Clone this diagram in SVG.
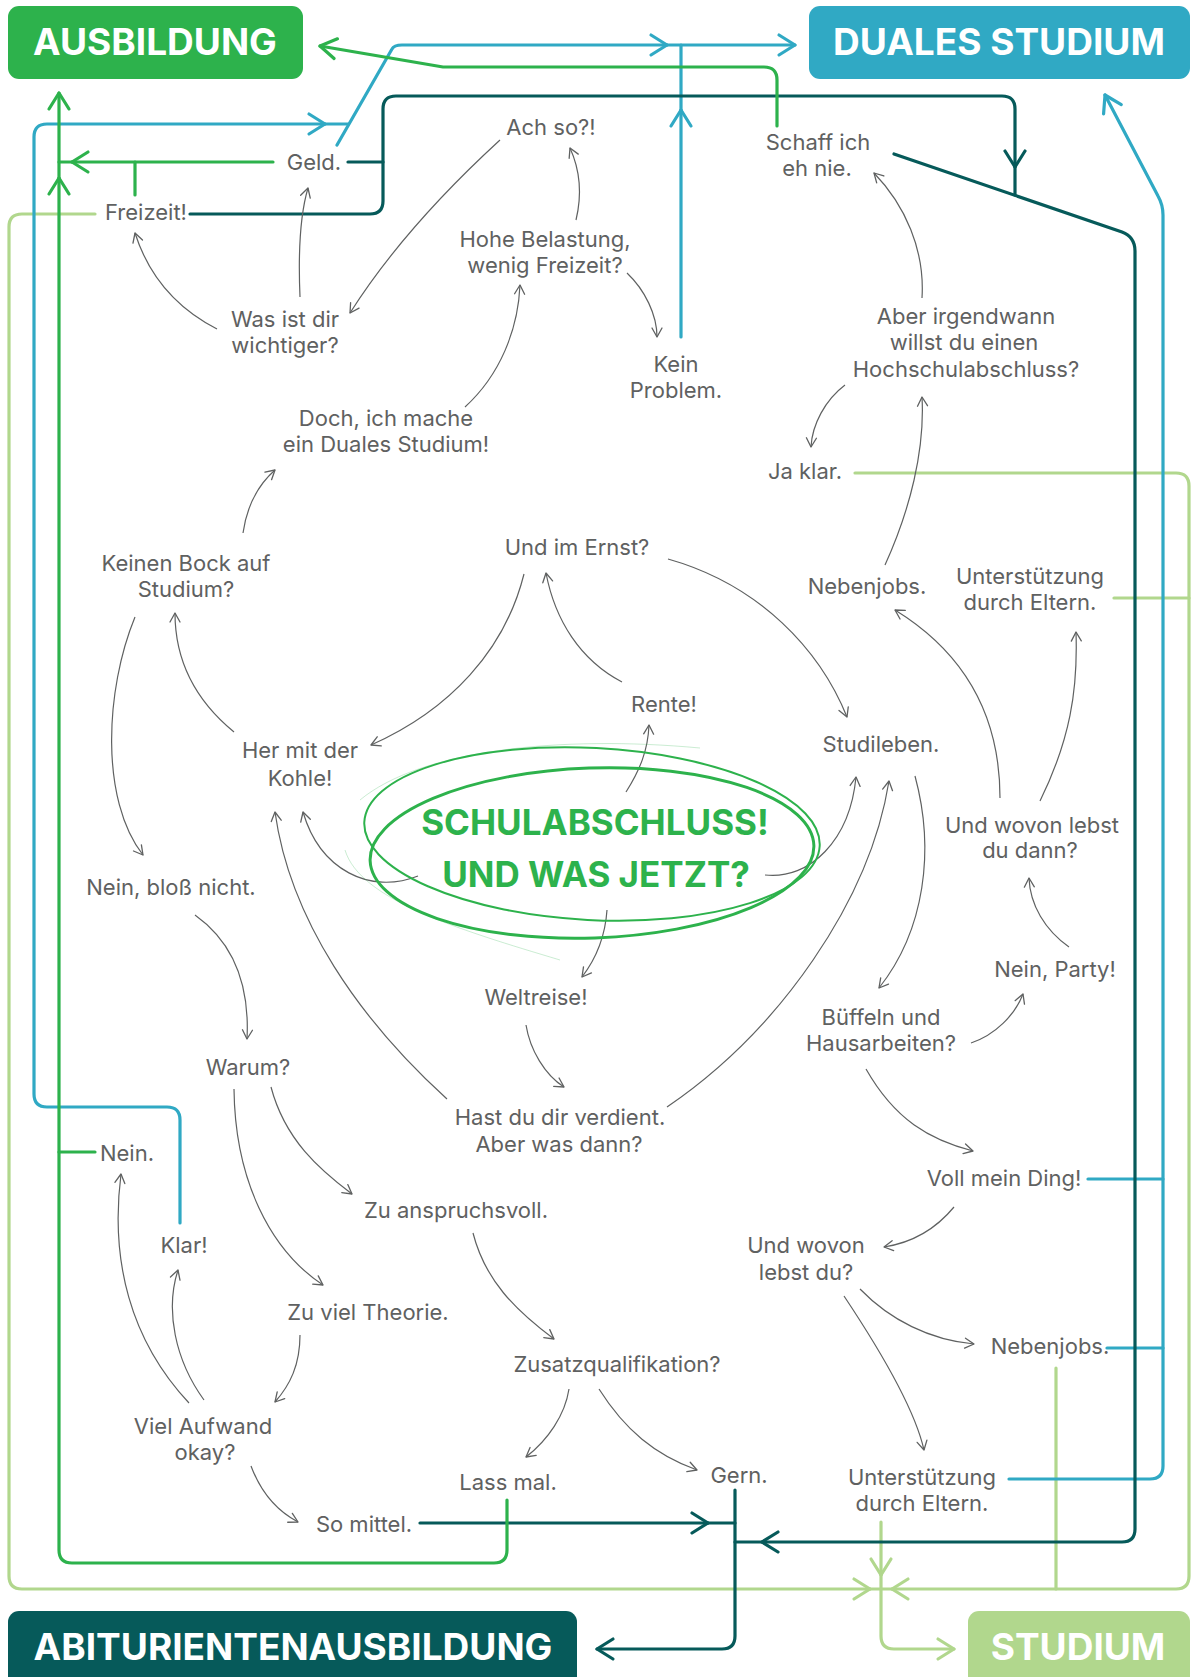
<svg xmlns="http://www.w3.org/2000/svg" width="1192" height="1677" viewBox="0 0 1192 1677">
<style>
.t{font-family:Inter,"Liberation Sans",sans-serif;font-size:22px;fill:#5f6161;text-anchor:middle}
.bt{font-family:Inter,"Liberation Sans",sans-serif;font-size:37px;font-weight:700;fill:#fff;text-anchor:middle}
.ht{font-family:Inter,"Liberation Sans",sans-serif;font-size:35px;font-weight:700;fill:#2db24c;text-anchor:middle}
.g{fill:none;stroke:#5f6161;stroke-width:1.2;marker-end:url(#mgr)}
.cg{fill:none;stroke:#2db24c;stroke-width:3.2;stroke-linecap:round;stroke-linejoin:round}
.cb{fill:none;stroke:#30a9c4;stroke-width:3.2;stroke-linecap:round;stroke-linejoin:round}
.cd{fill:none;stroke:#065a5a;stroke-width:3.2;stroke-linecap:round;stroke-linejoin:round}
.cl{fill:none;stroke:#b1d78d;stroke-width:3.2;stroke-linecap:round;stroke-linejoin:round}
.ag{marker-end:url(#mg)}.ab{marker-end:url(#mb)}.ad{marker-end:url(#md)}.al{marker-end:url(#ml)}
</style>
<defs>
<marker id="mgr" viewBox="-12 -8 14 16" refX="0" refY="0" markerWidth="14" markerHeight="16" markerUnits="userSpaceOnUse" orient="auto"><path d="M-9,-5 L0,0 L-9,5" fill="none" stroke="#5f6161" stroke-width="1.3" stroke-linecap="round" stroke-linejoin="round"/></marker>
<marker id="mg" viewBox="-20 -13 24 26" refX="0" refY="0" markerWidth="24" markerHeight="26" markerUnits="userSpaceOnUse" orient="auto"><path d="M-16,-10 L0,0 L-16,10" fill="none" stroke="#2db24c" stroke-width="3.2" stroke-linecap="round" stroke-linejoin="round"/></marker>
<marker id="mb" viewBox="-20 -13 24 26" refX="0" refY="0" markerWidth="24" markerHeight="26" markerUnits="userSpaceOnUse" orient="auto"><path d="M-16,-10 L0,0 L-16,10" fill="none" stroke="#30a9c4" stroke-width="3.2" stroke-linecap="round" stroke-linejoin="round"/></marker>
<marker id="md" viewBox="-20 -13 24 26" refX="0" refY="0" markerWidth="24" markerHeight="26" markerUnits="userSpaceOnUse" orient="auto"><path d="M-16,-10 L0,0 L-16,10" fill="none" stroke="#065a5a" stroke-width="3.2" stroke-linecap="round" stroke-linejoin="round"/></marker>
<marker id="ml" viewBox="-20 -13 24 26" refX="0" refY="0" markerWidth="24" markerHeight="26" markerUnits="userSpaceOnUse" orient="auto"><path d="M-16,-10 L0,0 L-16,10" fill="none" stroke="#b1d78d" stroke-width="3.2" stroke-linecap="round" stroke-linejoin="round"/></marker>
</defs>
<rect width="1192" height="1677" fill="#fff"/>

<g id="connectors">
<!-- light green -->
<path class="cl al" d="M 95 214 L 22 214 Q 9 214 9 227 L 9 1576 Q 9 1589 22 1589 L 870 1589"/>
<path class="cl al" d="M 855 473 L 1176 473 Q 1189 473 1189 486 L 1189 1576 Q 1189 1589 1176 1589 L 892 1589"/>
<path class="cl" d="M 870 1589 L 892 1589"/>
<path class="cl" d="M 1114 598 L 1189 598"/>
<path class="cl" d="M 1056 1368 L 1056 1589"/>
<path class="cl al" d="M 881 1522 L 881 1575"/>
<path class="cl al" d="M 881 1575 L 881 1636 Q 881 1649 894 1649 L 954 1649"/>
<!-- blue -->
<path class="cb ab" d="M 180 1223 L 180 1120 Q 180 1107 167 1107 L 47 1107 Q 34 1107 34 1094 L 34 137 Q 34 124 47 124 L 325 124"/>
<path class="cb" d="M 325 124 L 348 124"/>
<path class="cb ab" d="M 337 145 L 392 49 Q 394 45 402 45 L 667 45"/>
<path class="cb ab" d="M 667 45 L 795 45"/>
<path class="cb ab" d="M 681 337 L 681 110"/>
<path class="cb" d="M 681 110 L 681 45"/>
<path class="cb ab" d="M 1009 1479 L 1150 1479 Q 1163 1479 1163 1466 L 1163 215 Q 1163 205 1158 196 L 1105 95"/>
<path class="cb" d="M 1088 1179 L 1163 1179"/>
<path class="cb" d="M 1107 1348 L 1163 1348"/>
<!-- dark -->
<path class="cd" d="M 348 162 L 383 162"/>
<path class="cd ad" d="M 190 214 L 370 214 Q 383 214 383 201 L 383 109 Q 383 96 396 96 L 1002 96 Q 1015 96 1015 109 L 1015 167"/>
<path class="cd" d="M 1015 167 L 1015 195"/>
<path class="cd ad" d="M 894 154 L 1122 232 Q 1135 237 1135 251 L 1135 1529 Q 1135 1542 1122 1542 L 762 1542"/>
<path class="cd" d="M 762 1542 L 735 1542"/>
<path class="cd ad" d="M 420 1523 L 708 1523"/>
<path class="cd" d="M 708 1523 L 735 1523"/>
<path class="cd ad" d="M 735 1490 L 735 1636 Q 735 1649 722 1649 L 597 1649"/>
<!-- green -->
<path class="cg ag" d="M 777 126 L 777 80 Q 777 67 764 67 L 443 67 L 320 46"/>
<path class="cg ag" d="M 507 1500 L 507 1550 Q 507 1563 494 1563 L 72 1563 Q 59 1563 59 1550 L 59 178"/>
<path class="cg ag" d="M 59 178 L 59 93"/>
<path class="cg ag" d="M 273 162 L 72 162"/>
<path class="cg" d="M 72 162 L 59 162"/>
<path class="cg" d="M 135 195 L 135 162"/>
<path class="cg" d="M 95 1152 L 59 1152"/>
<!-- gray flow arrows -->
<path class="g" d="M 217 329 C 180 310, 150 280, 135 233"/>
<path class="g" d="M 300 297 C 298 250, 300 215, 308 188"/>
<path class="g" d="M 500 140 C 440 195, 390 250, 350 313"/>
<path class="g" d="M 576 220 C 582 195, 580 170, 570 148"/>
<path class="g" d="M 465 407 C 500 375, 518 330, 520 285"/>
<path class="g" d="M 627 273 C 645 290, 657 315, 657 337"/>
<path class="g" d="M 922 298 C 925 250, 905 205, 874 173"/>
<path class="g" d="M 845 385 C 825 400, 812 425, 811 447"/>
<path class="g" d="M 885 565 C 910 510, 925 450, 922 397"/>
<path class="g" d="M 243 533 C 247 505, 258 485, 275 470"/>
<path class="g" d="M 234 732 C 195 700, 175 660, 175 613"/>
<path class="g" d="M 135 617 C 105 690, 100 800, 143 855"/>
<path class="g" d="M 524 574 C 505 650, 450 710, 371 745"/>
<path class="g" d="M 622 682 C 580 660, 555 620, 546 573"/>
<path class="g" d="M 668 559 C 760 585, 820 650, 847 717"/>
<path class="g" d="M 626 792 C 640 770, 648 750, 649 725"/>
<path class="g" d="M 418 876 C 370 895, 320 870, 303 812"/>
<path class="g" d="M 447 1099 C 360 1020, 290 920, 275 812"/>
<path class="g" d="M 765 875 C 810 880, 850 840, 856 777"/>
<path class="g" d="M 667 1107 C 780 1030, 870 900, 889 781"/>
<path class="g" d="M 915 776 C 935 850, 925 930, 879 988"/>
<path class="g" d="M 1000 798 C 1000 710, 960 650, 895 610"/>
<path class="g" d="M 1040 801 C 1070 740, 1078 690, 1076 632"/>
<path class="g" d="M 1069 947 C 1045 930, 1030 905, 1029 878"/>
<path class="g" d="M 971 1043 C 995 1035, 1015 1015, 1023 994"/>
<path class="g" d="M 866 1069 C 895 1120, 930 1140, 973 1151"/>
<path class="g" d="M 954 1207 C 935 1230, 910 1243, 884 1247"/>
<path class="g" d="M 607 910 C 605 940, 595 960, 582 977"/>
<path class="g" d="M 526 1025 C 530 1050, 545 1075, 564 1087"/>
<path class="g" d="M 195 915 C 230 940, 250 980, 247 1039"/>
<path class="g" d="M 271 1087 C 285 1140, 320 1170, 352 1194"/>
<path class="g" d="M 234 1089 C 235 1180, 270 1250, 323 1285"/>
<path class="g" d="M 473 1233 C 485 1280, 515 1310, 554 1339"/>
<path class="g" d="M 300 1335 C 300 1365, 290 1385, 275 1402"/>
<path class="g" d="M 189 1403 C 130 1340, 110 1260, 121 1174"/>
<path class="g" d="M 204 1400 C 175 1360, 165 1310, 178 1270"/>
<path class="g" d="M 251 1466 C 260 1490, 275 1510, 298 1522"/>
<path class="g" d="M 569 1389 C 565 1415, 548 1440, 526 1457"/>
<path class="g" d="M 599 1389 C 625 1430, 655 1455, 697 1470"/>
<path class="g" d="M 860 1289 C 890 1320, 930 1340, 974 1344"/>
<path class="g" d="M 844 1296 C 880 1350, 915 1410, 924 1450"/>
</g>

<g id="n-ausbildung"><rect x="8" y="6" width="295" height="73" rx="11" fill="#2db24c"/><text class="bt" x="155" y="55">AUSBILDUNG</text></g>
<g id="n-duales"><rect x="809" y="6" width="381" height="73" rx="11" fill="#30a9c4"/><text class="bt" x="999" y="55">DUALES STUDIUM</text></g>
<g id="n-abi"><rect x="8" y="1611" width="569" height="90" rx="11" fill="#065a5a"/><text class="bt" x="293" y="1660">ABITURIENTENAUSBILDUNG</text></g>
<g id="n-studium"><rect x="968" y="1611" width="222" height="90" rx="11" fill="#b1d78d"/><text class="bt" x="1078" y="1660">STUDIUM</text></g>

<g id="n-start">
<ellipse cx="592" cy="853" rx="222" ry="85" transform="rotate(-2 592 853)" fill="none" stroke="#2db24c" stroke-width="3"/>
<ellipse cx="592" cy="834" rx="228" ry="86" transform="rotate(3 592 834)" fill="none" stroke="#2db24c" stroke-width="2"/>
<path d="M 360 800 C 420 750, 560 735, 700 748 M 345 850 C 360 900, 460 930, 560 960" fill="none" stroke="#2db24c" stroke-width="1" opacity="0.25"/>
<text class="ht" x="595" y="835">SCHULABSCHLUSS!</text>
<text class="ht" x="596" y="887">UND WAS JETZT?</text>
</g>

<g id="n-geld"><text class="t" x="314" y="170">Geld.</text></g>
<g id="n-freizeit"><text class="t" x="146" y="220">Freizeit!</text></g>
<g id="n-wichtiger"><text class="t" x="285" y="327">Was ist dir</text><text class="t" x="285" y="353">wichtiger?</text></g>
<g id="n-achso"><text class="t" x="551" y="135">Ach so?!</text></g>
<g id="n-hohe"><text class="t" x="545" y="247">Hohe Belastung,</text><text class="t" x="545" y="273">wenig Freizeit?</text></g>
<g id="n-kein"><text class="t" x="676" y="372">Kein</text><text class="t" x="676" y="398">Problem.</text></g>
<g id="n-schaff"><text class="t" x="818" y="150">Schaff ich</text><text class="t" x="817" y="176">eh nie.</text></g>
<g id="n-aber"><text class="t" x="966" y="324">Aber irgendwann</text><text class="t" x="964" y="350">willst du einen</text><text class="t" x="966" y="377">Hochschulabschluss?</text></g>
<g id="n-doch"><text class="t" x="386" y="426">Doch, ich mache</text><text class="t" x="386" y="452">ein Duales Studium!</text></g>
<g id="n-jaklar"><text class="t" x="805" y="479">Ja klar.</text></g>
<g id="n-keinen"><text class="t" x="186" y="571">Keinen Bock auf</text><text class="t" x="186" y="597">Studium?</text></g>
<g id="n-ernst"><text class="t" x="577" y="555">Und im Ernst?</text></g>
<g id="n-nebenjobs1"><text class="t" x="867" y="594">Nebenjobs.</text></g>
<g id="n-unterst1"><text class="t" x="1030" y="584">Unterstützung</text><text class="t" x="1030" y="610">durch Eltern.</text></g>
<g id="n-rente"><text class="t" x="664" y="712">Rente!</text></g>
<g id="n-kohle"><text class="t" x="300" y="758">Her mit der</text><text class="t" x="300" y="786">Kohle!</text></g>
<g id="n-studileben"><text class="t" x="881" y="752">Studileben.</text></g>
<g id="n-wovon1"><text class="t" x="1032" y="833">Und wovon lebst</text><text class="t" x="1030" y="858">du dann?</text></g>
<g id="n-blossnicht"><text class="t" x="171" y="895">Nein, bloß nicht.</text></g>
<g id="n-weltreise"><text class="t" x="536" y="1005">Weltreise!</text></g>
<g id="n-party"><text class="t" x="1055" y="977">Nein, Party!</text></g>
<g id="n-bueffeln"><text class="t" x="881" y="1025">Büffeln und</text><text class="t" x="881" y="1051">Hausarbeiten?</text></g>
<g id="n-warum"><text class="t" x="248" y="1075">Warum?</text></g>
<g id="n-hast"><text class="t" x="560" y="1125">Hast du dir verdient.</text><text class="t" x="559" y="1152">Aber was dann?</text></g>
<g id="n-nein"><text class="t" x="127" y="1161">Nein.</text></g>
<g id="n-voll"><text class="t" x="1004" y="1186">Voll mein Ding!</text></g>
<g id="n-anspruch"><text class="t" x="456" y="1218">Zu anspruchsvoll.</text></g>
<g id="n-klar"><text class="t" x="184" y="1253">Klar!</text></g>
<g id="n-wovon2"><text class="t" x="806" y="1253">Und wovon</text><text class="t" x="806" y="1280">lebst du?</text></g>
<g id="n-theorie"><text class="t" x="368" y="1320">Zu viel Theorie.</text></g>
<g id="n-nebenjobs2"><text class="t" x="1050" y="1354">Nebenjobs.</text></g>
<g id="n-zusatz"><text class="t" x="617" y="1372">Zusatzqualifikation?</text></g>
<g id="n-aufwand"><text class="t" x="203" y="1434">Viel Aufwand</text><text class="t" x="205" y="1460">okay?</text></g>
<g id="n-lass"><text class="t" x="508" y="1490">Lass mal.</text></g>
<g id="n-gern"><text class="t" x="739" y="1483">Gern.</text></g>
<g id="n-unterst2"><text class="t" x="922" y="1485">Unterstützung</text><text class="t" x="922" y="1511">durch Eltern.</text></g>
<g id="n-mittel"><text class="t" x="364" y="1532">So mittel.</text></g>
</svg>
